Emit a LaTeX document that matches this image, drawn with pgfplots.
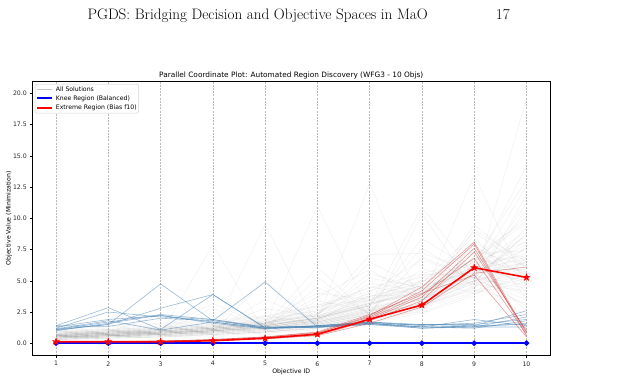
\documentclass[border=0pt]{standalone}
\usepackage{fontspec}
\usepackage{pgfplots}
\usepackage{pgfplotstable}
\pgfplotsset{compat=1.18}
\newfontfamily\dv{DejaVu Sans}
\definecolor{steel}{RGB}{70,130,180}
\definecolor{memred}{RGB}{200,60,60}
\definecolor{solgray}{RGB}{150,150,150}
\definecolor{kneeblue}{RGB}{0,0,255}
\definecolor{extred}{RGB}{255,0,0}

% filled five-pointed star mark
\pgfdeclareplotmark{fstar}{%
  \pgfpathmoveto{\pgfpointpolar{90}{\pgfplotmarksize}}%
  \pgfpathlineto{\pgfpointpolar{126}{0.42*\pgfplotmarksize}}%
  \pgfpathlineto{\pgfpointpolar{162}{\pgfplotmarksize}}%
  \pgfpathlineto{\pgfpointpolar{198}{0.42*\pgfplotmarksize}}%
  \pgfpathlineto{\pgfpointpolar{234}{\pgfplotmarksize}}%
  \pgfpathlineto{\pgfpointpolar{270}{0.42*\pgfplotmarksize}}%
  \pgfpathlineto{\pgfpointpolar{306}{\pgfplotmarksize}}%
  \pgfpathlineto{\pgfpointpolar{342}{0.42*\pgfplotmarksize}}%
  \pgfpathlineto{\pgfpointpolar{18}{\pgfplotmarksize}}%
  \pgfpathlineto{\pgfpointpolar{54}{0.42*\pgfplotmarksize}}%
  \pgfpathclose\pgfusepathqfillstroke}

% one row per solution, one column per objective
\pgfplotstableread{
o1 o2 o3 o4 o5 o6 o7 o8 o9 o10
0.50 0.60 0.70 7.90 0.90 1.20 2.00 2.50 4.00 5.50
0.60 0.80 0.90 1.00 9.50 1.30 2.20 3.00 5.00 6.00
0.70 0.90 1.00 1.20 1.50 11.00 2.50 3.50 5.50 4.00
0.50 0.70 0.80 1.00 1.30 1.80 12.80 2.80 6.00 5.00
0.60 0.80 0.90 1.10 1.40 2.00 3.00 10.90 5.50 6.50
0.40 0.60 0.70 0.90 1.20 1.60 2.50 3.50 13.50 4.50
0.50 0.70 0.80 1.00 1.30 1.80 2.80 3.80 5.00 19.60
0.60 0.80 1.00 1.20 1.50 2.00 3.20 4.00 6.00 14.20
0.70 0.90 1.10 1.30 1.60 2.20 3.50 4.50 6.50 13.10
0.50 0.60 0.80 1.00 1.20 1.70 2.60 3.50 5.20 10.70
0.60 0.80 0.90 1.10 1.40 6.10 2.20 3.20 4.80 9.30
0.40 0.50 0.70 0.90 5.00 1.50 2.40 3.00 4.50 7.70
0.80 1.00 1.20 1.40 1.70 2.30 7.10 7.20 5.80 6.40
0.30 0.40 0.50 0.70 0.90 1.30 2.00 10.40 4.20 5.20
0.90 1.10 1.30 1.50 1.80 2.50 3.80 4.80 8.90 6.00
0.50 0.60 0.80 1.00 1.20 4.50 2.40 3.10 5.50 8.20
0.70 0.90 1.00 1.20 1.50 3.70 5.90 3.40 6.20 4.80
0.60 0.70 0.90 1.10 1.30 1.90 3.00 7.60 5.10 3.50
0.40 0.60 0.70 0.90 1.10 1.50 2.30 3.20 7.00 9.80
1.00 1.20 1.40 1.60 2.00 2.60 4.00 5.00 6.00 7.20
0.30 0.40 0.50 0.60 0.80 1.10 1.70 2.40 3.80 6.80
0.80 1.00 1.10 3.20 1.40 2.00 3.10 4.20 5.30 3.00
0.50 0.70 0.90 1.00 3.50 1.70 2.70 3.60 4.90 8.80
0.60 0.90 2.30 1.10 1.40 2.10 3.30 4.10 6.80 5.60
0.40 0.50 0.60 0.80 1.00 1.40 2.10 2.90 4.40 11.90
0.70 0.80 1.00 1.20 1.60 2.80 4.50 3.90 7.40 6.20
0.50 0.60 0.70 0.90 1.10 1.60 2.50 6.00 4.70 4.20
0.90 1.00 1.20 1.40 1.70 2.40 3.60 4.60 5.70 7.90
0.60 0.70 0.90 2.80 1.30 1.90 2.90 3.80 5.40 3.80
0.30 0.50 0.60 0.70 0.90 1.20 1.90 2.70 8.20 5.00
0.80 0.90 1.10 1.30 1.60 2.20 6.50 4.40 5.90 6.70
0.50 0.70 0.80 1.00 1.20 1.70 2.60 3.50 5.00 2.20
0.70 0.80 1.00 1.20 2.80 2.10 3.20 4.30 6.10 9.00
0.40 0.60 0.70 0.90 1.10 5.30 2.20 3.00 4.60 5.80
0.60 0.70 0.80 1.00 1.30 1.80 4.10 6.70 5.20 4.40
1.10 1.30 1.50 1.70 2.10 2.90 4.20 5.30 6.40 7.00
0.50 0.60 0.80 0.90 1.20 1.60 2.40 3.30 9.50 6.10
0.70 0.90 1.00 1.20 1.50 3.10 3.40 5.50 5.60 12.60
0.40 0.50 0.60 0.80 1.00 1.40 2.10 3.00 4.30 3.20
0.80 1.00 1.10 1.30 1.70 2.30 5.20 4.50 7.80 5.40
0.60 0.70 0.90 1.10 1.40 2.00 3.00 8.40 5.80 6.90
0.50 0.70 0.80 1.00 1.20 1.70 2.70 3.60 6.60 10.10
0.90 1.10 1.20 1.40 1.80 4.00 3.50 4.60 5.40 4.60
0.30 0.40 0.50 0.70 0.90 1.20 1.80 2.60 6.30 8.50
0.70 0.80 1.00 1.20 1.50 2.10 3.20 4.10 5.00 6.30
0.50 0.60 0.70 0.90 2.20 1.50 2.30 3.20 4.80 5.30
0.60 0.80 0.90 1.10 1.40 1.90 3.80 3.90 7.20 7.40
1.20 1.40 1.60 1.80 2.20 3.00 4.40 5.60 6.60 8.10
0.40 0.60 0.70 0.80 1.00 1.40 2.20 5.10 4.00 4.90
0.80 0.90 1.10 1.30 1.60 2.20 3.40 4.40 8.60 3.60
0.50 0.70 0.80 1.00 1.30 1.80 2.80 3.70 5.30 11.20
0.60 0.70 0.90 1.00 1.30 3.40 2.60 3.40 6.90 5.70
0.70 0.90 1.00 1.20 1.50 2.00 4.80 4.20 5.60 7.60
0.30 0.50 0.60 0.70 0.90 1.30 2.00 2.80 4.10 6.60
1.00 1.10 1.30 1.50 1.90 2.60 3.70 4.90 7.60 4.10
0.50 0.60 0.80 1.00 1.20 1.70 2.50 6.90 5.20 8.70
0.60 0.80 0.90 1.10 1.40 2.00 3.10 4.00 6.20 2.60
0.40 0.50 0.70 0.80 1.10 1.50 2.30 3.10 9.10 6.50
0.80 1.00 1.10 1.30 1.60 2.30 5.60 4.30 5.90 5.90
0.70 0.80 1.00 1.10 1.40 2.00 3.00 4.70 6.70 9.60
}\allrows

% members of the knee region
\pgfplotstableread{
o1 o2 o3 o4 o5 o6 o7 o8 o9 o10
1.40 2.85 1.10 3.90 1.20 1.35 1.60 1.30 1.30 1.60
1.10 1.50 4.75 1.80 4.90 1.30 1.55 1.50 1.50 1.90
1.05 1.50 2.80 3.90 1.25 1.40 1.70 1.40 1.30 2.10
1.20 2.50 2.10 1.90 1.30 1.35 1.60 1.20 1.40 2.60
1.30 1.90 2.20 1.70 1.20 1.30 1.50 1.30 1.90 1.40
1.10 1.70 2.30 1.90 1.20 1.40 1.70 1.50 1.40 1.50
1.00 1.60 2.25 1.60 1.15 1.30 1.60 1.30 1.20 1.80
1.40 1.35 2.00 1.80 1.30 1.25 1.50 1.20 1.30 1.30
1.15 1.80 1.05 1.70 1.20 1.40 1.65 1.45 1.60 2.30
}\kneerows

% members of the extreme region
\pgfplotstableread{
o1 o2 o3 o4 o5 o6 o7 o8 o9 o10
0.12 0.12 0.15 0.25 0.45 0.80 2.20 4.50 8.10 0.80
0.10 0.15 0.15 0.30 0.50 0.85 2.10 4.20 7.95 0.60
0.15 0.10 0.20 0.25 0.40 0.70 1.90 3.70 7.60 0.90
0.10 0.10 0.10 0.20 0.35 0.65 1.80 3.40 7.30 1.00
0.08 0.10 0.15 0.20 0.35 0.60 1.60 2.90 5.60 6.10
0.10 0.15 0.10 0.25 0.45 0.75 2.00 3.90 6.80 0.70
0.12 0.10 0.15 0.30 0.50 0.90 2.30 4.00 5.45 0.50
}\extremerows

\pgfplotstabletranspose\allcols\allrows
\pgfplotstabletranspose\kneecols\kneerows
\pgfplotstabletranspose\extremecols\extremerows
\pgfplotstablegetrowsof{\allrows}\edef\nall{\pgfplotsretval}
\pgfplotstablegetrowsof{\kneerows}\edef\nknee{\pgfplotsretval}
\pgfplotstablegetrowsof{\extremerows}\edef\nextreme{\pgfplotsretval}

\begin{document}
\begin{tikzpicture}[x=1bp,y=1bp]
\useasboundingbox (0,0) rectangle (630,381);
\node[anchor=base west, inner sep=0] at (87.3,362)
  {\fontsize{15.2}{18}\selectfont PGDS: Bridging Decision and Objective Spaces in MaO};
\node[anchor=base east, inner sep=0] at (510,362) {\fontsize{15.2}{18}\selectfont 17};
\begin{axis}[
  at={(32.5bp,25.3bp)}, anchor=south west,
  scale only axis, width=517.5bp, height=274.7bp,
  xmin=0.55, xmax=10.45, ymin=-1, ymax=21,
  xtick={1,...,10}, ytick={0,2.5,...,20},
  /pgf/number format/assume math mode=true,
  yticklabel style={/pgf/number format/.cd, fixed, fixed zerofill, precision=1},
  tick align=outside, xtick pos=left, ytick pos=left,
  major tick length=2.2bp,
  every tick/.style={black, line width=0.5bp},
  axis line style={black, line width=0.6bp},
  ticklabel style={font=\dv\fontsize{6.2}{7}\selectfont, text=black!85},
  xmajorgrids,
  major grid style={gray!55, dash pattern=on 2bp off 1.2bp, line width=0.45bp},
  every axis title shift=0pt,
  title={Parallel Coordinate Plot: Automated Region Discovery (WFG3 - 10 Objs)},
  title style={font=\dv\fontsize{7.4}{8.5}\selectfont, at={(axis description cs:0.5,1.012)}, anchor=base, inner sep=0},
  xlabel={Objective ID},
  xlabel style={font=\dv\fontsize{6.2}{7}\selectfont, at={(axis description cs:0.5,-0.058)}, anchor=center, inner sep=0},
  ylabel={Objective Value (Minimization)},
  ylabel style={font=\dv\fontsize{6.2}{7}\selectfont, at={(axis description cs:-0.0454,0.5)}, anchor=center, inner sep=0},
]
% all solutions
\pgfplotsinvokeforeach{1,...,\nall}{
  \addplot[solgray, opacity=0.12, line width=0.6bp]
    table[x expr=\coordindex+1, y index=#1] {\allcols};
}
% knee region members
\pgfplotsinvokeforeach{1,...,\nknee}{
  \addplot[steel, opacity=0.55, line width=0.6bp]
    table[x expr=\coordindex+1, y index=#1] {\kneecols};
}
% extreme region members
\pgfplotsinvokeforeach{1,...,\nextreme}{
  \addplot[memred, opacity=0.5, line width=0.6bp]
    table[x expr=\coordindex+1, y index=#1] {\extremecols};
}
% knee representative
\addplot[kneeblue, line width=1.7bp, mark=*, mark size=1.8bp,
  mark options={fill=kneeblue, draw=kneeblue}]
  coordinates {(1,0)(2,0)(3,0)(4,0)(5,0)(6,0)(7,0)(8,0)(9,0)(10,0)};
% extreme representative
\addplot[extred, line width=1.6bp, mark=fstar, mark size=3.6bp,
  mark options={fill=extred, draw=extred, line width=0.4bp}]
  coordinates {(1,0.12)(2,0.12)(3,0.12)(4,0.20)(5,0.40)(6,0.72)(7,1.92)(8,3.06)(9,6.05)(10,5.27)};
\end{axis}
% legend
\draw[gray!35, fill=white, line width=0.5bp, rounded corners=1.5bp] (35,268) rectangle (138.5,297);
\begin{scope}[every node/.style={anchor=base west, inner sep=0, font=\dv\fontsize{6.2}{7}\selectfont}]
\node at (55.7,289.5) {All Solutions};
\node at (55.7,280.5) {Knee Region (Balanced)};
\node at (55.7,271.1) {Extreme Region (Bias f10)};
\end{scope}
\fill[gray!45] (37,291.4) rectangle (52,292.0);
\fill[kneeblue] (37,281.8) rectangle (52,283.7);
\fill[extred] (37,272.4) rectangle (52,274.3);
\end{tikzpicture}
\end{document}
